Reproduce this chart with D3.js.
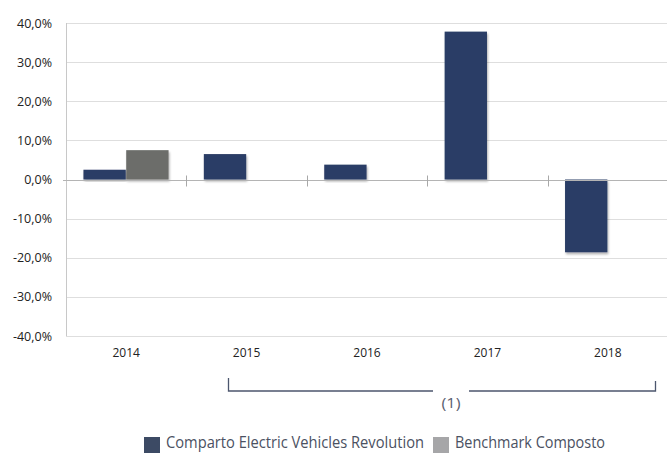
<!DOCTYPE html>
<html>
<head>
<meta charset="utf-8">
<script src="https://cdn.jsdelivr.net/npm/d3@7"></script>
<style>
  body { margin: 0; background: #fff; }
  svg { display: block; }
</style>
</head>
<body>
<div id="chart"></div>
<script>
// data
var years = ["2014", "2015", "2016", "2017", "2018"];
var fund = [2.5, 6.5, 3.8, 37.8, -18.6];
var bench = [7.5, null, null, null, null];
var yTicks = [-40, -30, -20, -10, 0, 10, 20, 30, 40];
var seriesNames = ["Comparto Electric Vehicles Revolution", "Benchmark Composto"];

var W = 667, H = 453;
var margin = {top: 23, right: 0, bottom: 117, left: 66};
var w = W - margin.left - margin.right,
    h = H - margin.top - margin.bottom;

var svg = d3.select("#chart").append("svg")
    .attr("width", W)
    .attr("height", H);

// drop shadow under bars
var f = svg.append("defs").append("filter")
    .attr("id", "shadow")
    .attr("x", "-20%").attr("y", "-20%")
    .attr("width", "140%").attr("height", "140%");
f.append("feDropShadow")
    .attr("dx", 1).attr("dy", 2)
    .attr("stdDeviation", 1.2)
    .attr("flood-color", "#000")
    .attr("flood-opacity", 0.3);

var g = svg.append("g")
    .attr("transform", "translate(" + margin.left + "," + margin.top + ")");

var y = d3.scaleLinear().domain([-40, 40]).range([h, 0]);
var x = d3.scaleBand().domain(years).range([0, 602]).padding(0);
var xs = d3.scaleBand().domain(["fund", "bench"]).range([17, 103]).padding(0.01);

// gridlines
g.selectAll(".grid")
    .data(yTicks.filter(function (d) { return d !== 0; }))
    .enter().append("line")
    .attr("x1", 0).attr("x2", 602)
    .attr("y1", function (d) { return Math.round(y(d)) + 0.5; })
    .attr("y2", function (d) { return Math.round(y(d)) + 0.5; })
    .attr("stroke", "#dedede");

// y axis labels
var yAxis = d3.axisLeft(y).tickValues(yTicks).tickSize(0).tickPadding(14)
    .tickFormat(function (d) { return d.toFixed(1).replace(".", ",") + "%"; });
var ya = g.append("g").call(yAxis);
ya.select(".domain").remove();
ya.selectAll("text")
    .attr("font-family", "Open Sans")
    .attr("font-size", 12.5)
    .attr("fill", "#222");

// y axis line
g.append("line")
    .attr("x1", 0.5).attr("x2", 0.5)
    .attr("y1", 0).attr("y2", h)
    .attr("stroke", "#c8c8c8");

// bars
var fundColor = "#2c3e66", benchColor = "#6c6d6b";
var bars = [];
years.forEach(function (yr, i) {
    if (fund[i] != null) bars.push({year: yr, key: "fund", v: fund[i]});
    if (bench[i] != null) bars.push({year: yr, key: "bench", v: bench[i]});
});
g.selectAll(".bar")
    .data(bars).enter()
    .append("rect")
    .attr("class", "bar")
    .attr("x", function (d) { return x(d.year) + xs(d.key); })
    .attr("width", xs.bandwidth())
    .attr("y", function (d) { return y(Math.max(0, d.v)); })
    .attr("height", function (d) { return Math.abs(y(d.v) - y(0)); })
    .attr("fill", function (d) { return d.key === "fund" ? fundColor : benchColor; })
    .attr("filter", "url(#shadow)");

// zero line with category ticks
var y0 = Math.round(y(0)) + 0.5;
g.append("line")
    .attr("x1", -3).attr("x2", 602)
    .attr("y1", y0).attr("y2", y0)
    .attr("stroke", "#b4b4b4");
g.selectAll(".ctick")
    .data(years.slice(1))
    .enter().append("line")
    .attr("x1", function (d) { return Math.round(x(d)) + 0.5; })
    .attr("x2", function (d) { return Math.round(x(d)) + 0.5; })
    .attr("y1", y0 - 5).attr("y2", y0 + 6)
    .attr("stroke", "#a8a8a8");

// x labels
g.selectAll(".xl")
    .data(years).enter()
    .append("text")
    .attr("x", function (d) { return x(d) + x.bandwidth() / 2; })
    .attr("y", h + 21)
    .attr("text-anchor", "middle")
    .attr("font-family", "Open Sans")
    .attr("font-size", 12)
    .attr("fill", "#222")
    .text(function (d) { return d; });

// bracket (1) under 2015-2018
var bx1 = 228.5, bx2 = 655.5, by = 391;
var bracket = svg.append("g").attr("stroke", "#4c566e").attr("stroke-width", 1.3).attr("fill", "none");
bracket.append("path").attr("d", "M" + bx1 + ",378 V" + by + " H433");
bracket.append("path").attr("d", "M469," + by + " H" + bx2 + " V381");
svg.append("text")
    .attr("x", 451).attr("y", 408)
    .attr("text-anchor", "middle")
    .attr("font-family", "Open Sans")
    .attr("font-size", 15)
    .attr("fill", "#5a6070")
    .attr("textLength", 19)
    .attr("lengthAdjust", "spacingAndGlyphs")
    .text("(1)");

// legend
var legend = svg.append("g");
var lx = [144, 433];
var swatch = ["#3c4a64", "#a6a6a8"];
var textW = [258, 150];
seriesNames.forEach(function (name, i) {
    legend.append("rect")
        .attr("x", lx[i]).attr("y", 437)
        .attr("width", 16).attr("height", 16)
        .attr("fill", swatch[i]);
    legend.append("text")
        .attr("x", lx[i] + 22).attr("y", 448)
        .attr("font-family", "Open Sans")
        .attr("font-size", 16)
        .attr("fill", "#4b5162")
        .attr("textLength", textW[i])
        .attr("lengthAdjust", "spacingAndGlyphs")
        .text(name);
});
</script>
</body>
</html>
